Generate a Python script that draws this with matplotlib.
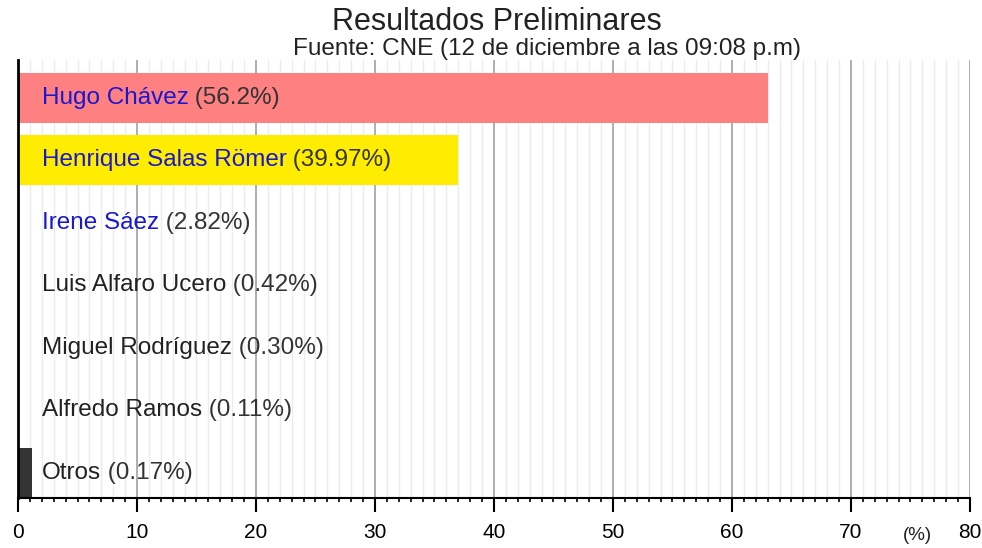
import matplotlib
matplotlib.use("Agg")
import matplotlib.pyplot as plt
import numpy as np

plt.rcParams['font.family'] = ['Liberation Sans', 'DejaVu Sans']

# Data
candidates = ['Hugo Chávez', 'Henrique Salas Römer', 'Irene Sáez',
              'Luis Alfaro Ucero', 'Miguel Rodríguez', 'Alfredo Ramos', 'Otros']
pct_labels = ['56.2%', '39.97%', '2.82%', '0.42%', '0.30%', '0.11%', '0.17%']
bar_lengths = [63, 37, 0, 0, 0, 0, 1.2]
bar_colors = ['#ff8080', '#ffed00', '#ffffff', '#ffffff', '#ffffff', '#ffffff', '#333333']
name_colors = ['#1818d0', '#1818d0', '#1818d0', '#222222', '#222222', '#222222', '#222222']

fig = plt.figure(figsize=(9.82, 5.48), dpi=100)
ax = fig.add_axes([18 / 982, 50 / 548, 952 / 982, 438 / 548])

y = np.arange(len(candidates))
ax.barh(y, bar_lengths, height=0.8, color=bar_colors, zorder=2)

# grid
for x in range(0, 81):
    if x % 10 == 0:
        ax.axvline(x, color='#999999', lw=1.1, zorder=1)
    else:
        ax.axvline(x, color='#ececec', lw=1.0, zorder=1)

for i, (name, pct) in enumerate(zip(candidates, pct_labels)):
    t = ax.annotate(name, xy=(0, i), xytext=(17, 0), textcoords='offset points',
                    va='center', ha='left', fontsize=17.5, color=name_colors[i], zorder=3)
    ax.annotate(f' ({pct})', xycoords=t, xy=(1, 0.5), va='center', ha='left',
                fontsize=17.5, color='#333333', zorder=3)

ax.set_xlim(0, 80)
ax.set_ylim(6.4, -0.6)
ax.set_yticks([])
ax.set_xticks(range(0, 81, 10))
ax.set_xticks(range(0, 81), minor=True)
ax.tick_params(axis='x', which='major', length=10, width=1.5, labelsize=15, pad=8)
ax.tick_params(axis='x', which='minor', length=3, width=1.2)
for s in ['top', 'right']:
    ax.spines[s].set_visible(False)
ax.spines['left'].set_linewidth(2)
ax.spines['bottom'].set_linewidth(1.5)

fig.text(497 / 982, 1 - 22 / 548, 'Resultados Preliminares', ha='center', va='center',
         fontsize=22, color='#222222')
fig.text(547 / 982, 1 - 49 / 548, 'Fuente: CNE (12 de diciembre a las 09:08 p.m)',
         ha='center', va='center', fontsize=17.5, color='#222222')
fig.text(917 / 982, 1 - 535 / 548, '(%)', ha='center', va='center', fontsize=13.5,
         color='#222222')

plt.savefig('out.png', dpi=100)
